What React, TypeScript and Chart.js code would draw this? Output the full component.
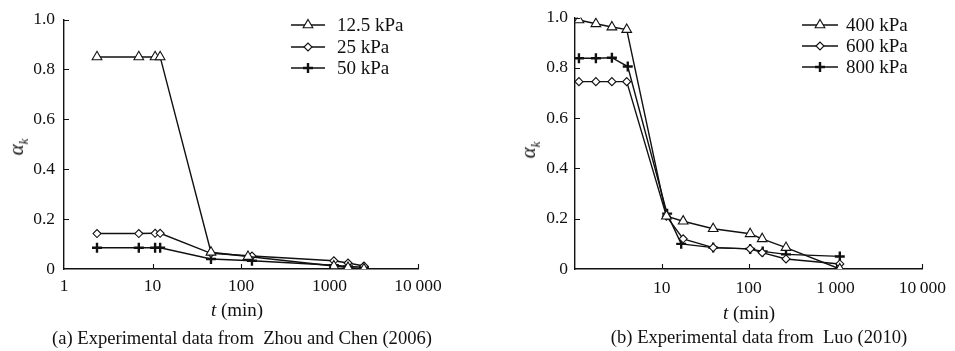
import React, { useEffect, useRef } from 'react';
import { Chart, registerables } from 'chart.js';

Chart.register(...registerables);

// ---------- Panel (a): Zhou and Chen (2006) ----------
const aLabels = ['12.5 kPa', '25 kPa', '50 kPa'];
const aTime125 = [2.36, 7.0, 10.7, 12.2, 45.8, 120, 1120, 1620, 2450];
const aAlpha125 = [0.85, 0.85, 0.85, 0.85, 0.067, 0.05, 0.012, 0.006, 0.0];
const aTime25 = [2.36, 7.0, 10.7, 12.2, 45.8, 133, 1120, 1620, 2450];
const aAlpha25 = [0.142, 0.142, 0.143, 0.143, 0.063, 0.052, 0.033, 0.024, 0.012];
const aTime50 = [2.36, 7.0, 10.7, 12.2, 45.8, 133, 1120, 1620, 2450];
const aAlpha50 = [0.085, 0.085, 0.085, 0.085, 0.04, 0.033, 0.015, 0.01, 0.007];
const aXTicks = [1, 10, 100, 1000, 10000];
const aXTickLabels = ['1', '10', '100', '1000', '10\u2009000'];

// ---------- Panel (b): Luo (2010) ----------
const bLabels = ['400 kPa', '600 kPa', '800 kPa'];
const bTime400 = [1.11, 1.74, 2.66, 3.94, 11.3, 17.6, 39, 104, 143, 269, 1120];
const bAlpha400 = [0.99, 0.975, 0.962, 0.952, 0.21, 0.19, 0.16, 0.14, 0.12, 0.085, 0.0];
const bTime600 = [1.11, 1.74, 2.66, 3.94, 11.3, 17.6, 39, 104, 143, 269, 1120];
const bAlpha600 = [0.745, 0.745, 0.745, 0.745, 0.21, 0.12, 0.085, 0.08, 0.065, 0.04, 0.02];
const bTime800 = [1.11, 1.74, 2.66, 4.05, 11.5, 16.7, 39, 104, 145, 269, 1120];
const bAlpha800 = [0.838, 0.838, 0.84, 0.805, 0.22, 0.1, 0.085, 0.08, 0.07, 0.058, 0.05];
const bXTicks = [1, 10, 100, 1000, 10000];
const bXTickLabels = ['', '10', '100', '1\u2009000', '10\u2009000'];

const yTicks = [0, 0.2, 0.4, 0.6, 0.8, 1.0];
const yTickLabels = ['0', '0.2', '0.4', '0.6', '0.8', '1.0'];

const FONT = "'Liberation Serif', 'Times New Roman', serif";
const INK = '#111111';

type MarkerStyle = 'triangle' | 'rectRot' | 'cross';
const markerStyles: MarkerStyle[] = ['triangle', 'rectRot', 'cross'];
const markerRadius: Record<MarkerStyle, number> = { triangle: 5.6, rectRot: 4.0, cross: 5.0 };
const markerWidth: Record<MarkerStyle, number> = { triangle: 1.1, rectRot: 1.1, cross: 2.4 };

function drawMarker(ctx: CanvasRenderingContext2D, style: MarkerStyle, x: number, y: number, r: number) {
  ctx.beginPath();
  if (style === 'triangle') {
    let rad = 0;
    ctx.moveTo(x + Math.sin(rad) * r, y - Math.cos(rad) * r);
    rad += (2 * Math.PI) / 3;
    ctx.lineTo(x + Math.sin(rad) * r, y - Math.cos(rad) * r);
    rad += (2 * Math.PI) / 3;
    ctx.lineTo(x + Math.sin(rad) * r, y - Math.cos(rad) * r);
    ctx.closePath();
    ctx.fill();
    ctx.stroke();
  } else if (style === 'rectRot') {
    ctx.moveTo(x - r, y);
    ctx.lineTo(x, y - r);
    ctx.lineTo(x + r, y);
    ctx.lineTo(x, y + r);
    ctx.closePath();
    ctx.fill();
    ctx.stroke();
  } else {
    ctx.moveTo(x - r, y);
    ctx.lineTo(x + r, y);
    ctx.moveTo(x, y - r);
    ctx.lineTo(x, y + r);
    ctx.stroke();
  }
}

interface PanelProps {
  left: number;
  width: number;
  labels: string[];
  times: number[][];
  alphas: number[][];
  xTicks: number[];
  xTickLabels: string[];
  yAxisWidth: number;
  padRight: number;
  xTickPad: number;
  yTickPad: number;
  legendLineX0: number;
  legendLineX1: number;
  legendTextX: number;
  legendRows: number[];
}

function Panel(p: PanelProps) {
  const ref = useRef<HTMLCanvasElement>(null);
  useEffect(() => {
    const canvas = ref.current!;
    const inwardTicks = {
      id: 'inwardTicks',
      afterDraw(chart: any) {
        const { ctx, chartArea } = chart;
        const xs = chart.scales.x;
        const ys = chart.scales.y;
        ctx.save();
        ctx.strokeStyle = INK;
        ctx.lineWidth = 1.1;
        ctx.beginPath();
        xs.ticks.forEach((t: any) => {
          const px = Math.round(xs.getPixelForValue(t.value)) + 0.5;
          if (Math.abs(px - chartArea.left) < 2) return;
          ctx.moveTo(px, chartArea.bottom);
          ctx.lineTo(px, chartArea.bottom - 5);
        });
        ys.ticks.forEach((t: any) => {
          const py = Math.round(ys.getPixelForValue(t.value)) + 0.5;
          if (Math.abs(py - chartArea.bottom) < 2) return;
          ctx.moveTo(chartArea.left, py);
          ctx.lineTo(chartArea.left + 5, py);
        });
        ctx.stroke();
        ctx.restore();
      },
    };
    const legendPlugin = {
      id: 'lineMarkerLegend',
      afterDraw(chart: any) {
        const ctx: CanvasRenderingContext2D = chart.ctx;
        ctx.save();
        p.labels.forEach((label, i) => {
          const y = p.legendRows[i];
          const style = markerStyles[i];
          ctx.strokeStyle = INK;
          ctx.lineWidth = 1.4;
          ctx.beginPath();
          ctx.moveTo(p.legendLineX0, y);
          ctx.lineTo(p.legendLineX1, y);
          ctx.stroke();
          ctx.fillStyle = '#fff';
          ctx.lineWidth = markerWidth[style];
          drawMarker(ctx, style, (p.legendLineX0 + p.legendLineX1) / 2, y, markerRadius[style]);
          ctx.fillStyle = INK;
          ctx.font = `19px ${FONT}`;
          ctx.textBaseline = 'middle';
          ctx.textAlign = 'left';
          ctx.fillText(label, p.legendTextX, y + 1);
        });
        ctx.restore();
      },
    };
    const chart = new Chart(canvas, {
      type: 'scatter',
      data: {
        datasets: p.labels.map((label, i) => {
          const style = markerStyles[i];
          return {
            label,
            data: p.times[i].map((t, j) => ({ x: t, y: p.alphas[i][j] })),
            showLine: true,
            borderColor: INK,
            borderWidth: 1.4,
            backgroundColor: '#fff',
            pointStyle: style,
            pointRadius: markerRadius[style],
            pointBackgroundColor: '#fff',
            pointBorderColor: INK,
            pointBorderWidth: markerWidth[style],
          };
        }),
      },
      options: {
        animation: false,
        responsive: false,
        maintainAspectRatio: false,
        layout: { padding: { left: 0, top: 15, right: p.padRight, bottom: 40 } },
        plugins: { legend: { display: false }, tooltip: { enabled: false } },
        scales: {
          x: {
            type: 'logarithmic',
            min: 1,
            max: 10000,
            afterBuildTicks: (scale: any) => {
              scale.ticks = p.xTicks.map((v) => ({ value: v, major: true }));
            },
            afterFit: (scale: any) => {
              scale.height = 351 - 15 - 254 - 40;
            },
            ticks: {
              autoSkip: false,
              maxRotation: 0,
              padding: p.xTickPad,
              color: INK,
              font: { family: FONT, size: 17.5 },
              callback: (v: any) => {
                const idx = p.xTicks.indexOf(Number(v));
                return idx >= 0 ? p.xTickLabels[idx] : '';
              },
            },
            grid: { display: true, drawOnChartArea: false, drawTicks: false },
            border: { display: true, color: INK, width: 1.4 },
          },
          y: {
            type: 'linear',
            min: 0,
            max: 1,
            afterBuildTicks: (scale: any) => {
              scale.ticks = yTicks.map((v) => ({ value: v }));
            },
            afterFit: (scale: any) => {
              scale.width = p.yAxisWidth;
            },
            ticks: {
              padding: p.yTickPad,
              color: INK,
              font: { family: FONT, size: 17.5 },
              callback: (v: any) => {
                const idx = yTicks.findIndex((t) => Math.abs(t - Number(v)) < 1e-6);
                return idx >= 0 ? yTickLabels[idx] : '';
              },
            },
            grid: { display: true, drawOnChartArea: false, drawTicks: false },
            border: { display: true, color: INK, width: 1.4 },
          },
        },
      },
      plugins: [inwardTicks, legendPlugin],
    } as any);
    return () => chart.destroy();
  }, []);
  return (
    <canvas
      ref={ref}
      width={p.width}
      height={351}
      style={{ position: 'absolute', left: p.left, top: 0, width: p.width, height: 351 }}
    />
  );
}

const textStyle: React.CSSProperties = {
  position: 'absolute',
  fontFamily: FONT,
  color: INK,
  whiteSpace: 'pre',
  lineHeight: 1,
};

function AlphaLabel({ x, y }: { x: number; y: number }) {
  return (
    <div style={{ ...textStyle, left: x, top: y, fontSize: 21, transform: 'translate(-50%, -50%) rotate(-90deg)' }}>
      <i>α</i>
      <sub style={{ fontSize: 13 }}>
        <i>k</i>
      </sub>
    </div>
  );
}

function TLabel({ x, y }: { x: number; y: number }) {
  return (
    <div style={{ ...textStyle, left: x, top: y, fontSize: 19, transform: 'translate(-50%, -50%)' }}>
      <i>t</i> (min)
    </div>
  );
}

function Caption({ x, y, text }: { x: number; y: number; text: string }) {
  return (
    <div style={{ ...textStyle, left: x, top: y, fontSize: 18.6, transform: 'translate(-50%, -50%)' }}>{text}</div>
  );
}

export default function App() {
  return (
    <div style={{ position: 'fixed', left: 0, top: 0, width: 955, height: 351, background: '#fff', overflow: 'hidden' }}>
      <Panel
        left={0}
        width={480}
        labels={aLabels}
        times={[aTime125, aTime25, aTime50]}
        alphas={[aAlpha125, aAlpha25, aAlpha50]}
        xTicks={aXTicks}
        xTickLabels={aXTickLabels}
        yAxisWidth={64}
        padRight={62}
        xTickPad={7}
        yTickPad={9}
        legendLineX0={291}
        legendLineX1={325}
        legendTextX={337}
        legendRows={[25, 47, 68]}
      />
      <Panel
        left={480}
        width={475}
        labels={bLabels}
        times={[bTime400, bTime600, bTime800]}
        alphas={[bAlpha400, bAlpha600, bAlpha800]}
        xTicks={bXTicks}
        xTickLabels={bXTickLabels}
        yAxisWidth={95}
        padRight={31}
        xTickPad={9}
        yTickPad={7}
        legendLineX0={322}
        legendLineX1={358}
        legendTextX={366}
        legendRows={[25, 46, 67]}
      />
      <AlphaLabel x={18} y={147} />
      <TLabel x={237} y={309} />
      <Caption x={242} y={338} text="(a) Experimental data from  Zhou and Chen (2006)" />
      <AlphaLabel x={530} y={150} />
      <TLabel x={749} y={312} />
      <Caption x={759} y={337} text="(b) Experimental data from  Luo (2010)" />
    </div>
  );
}
